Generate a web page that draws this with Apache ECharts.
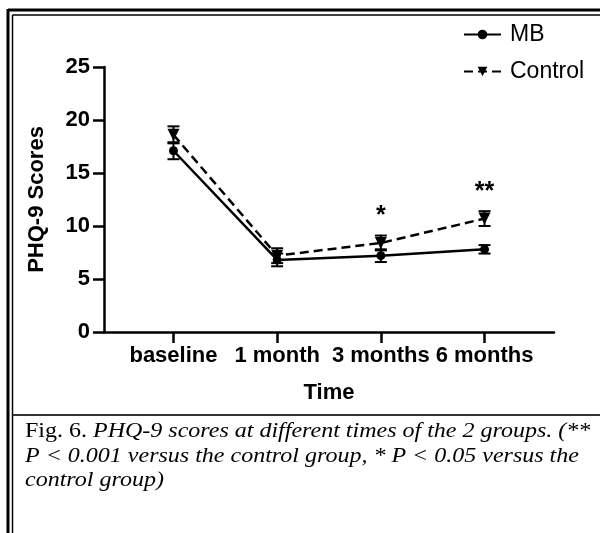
<!DOCTYPE html>
<html>
<head>
<meta charset="utf-8">
<script src="https://cdn.jsdelivr.net/npm/echarts@6/dist/echarts.min.js"></script>
<style>
  html, body { margin: 0; padding: 0; background: #fff; }
  #main { width: 600px; height: 533px; }
</style>
</head>
<body>
<div id="main"></div>
<script>
// values
const timeLabels = ['baseline', '1 month', '3 months', '6 months'];
const mbMean = [17.1, 6.8, 7.2, 7.8];
const mbErr = [0.8, 0.6, 0.6, 0.4];
const controlMean = [18.6, 7.2, 8.4, 10.7];
const controlErr = [0.8, 0.7, 0.7, 0.7];
const sigMarks = ['', '', '*', '**'];

const sans = 'Liberation Sans, Arial, sans-serif';
const serif = 'Liberation Serif, Times New Roman, serif';
const captionStretch = 1.2;

const chart = echarts.init(document.getElementById('main'));

function errorBars(mean, err) {
  return {
    type: 'custom',
    silent: true,
    z: 4,
    encode: { x: 0, y: [1, 2] },
    data: mean.map((m, i) => [i, m - err[i], m + err[i]]),
    renderItem: (params, api) => {
      const lo = api.coord([api.value(0), api.value(1)]);
      const hi = api.coord([api.value(0), api.value(2)]);
      const w = 6;
      const style = { stroke: '#000', lineWidth: 2 };
      return {
        type: 'group',
        children: [
          { type: 'line', shape: { x1: lo[0], y1: lo[1], x2: hi[0], y2: hi[1] }, style },
          { type: 'line', shape: { x1: lo[0] - w, y1: lo[1], x2: lo[0] + w, y2: lo[1] }, style },
          { type: 'line', shape: { x1: hi[0] - w, y1: hi[1], x2: hi[0] + w, y2: hi[1] }, style }
        ]
      };
    }
  };
}

function captionLine(y, text, rich) {
  return {
    type: 'text', x: 25, y: y, scaleX: captionStretch,
    style: Object.assign({
      text: text,
      verticalAlign: 'middle',
      fontSize: 20, fontFamily: serif, fontStyle: 'italic', fill: '#000'
    }, rich ? { rich: rich } : {})
  };
}

let option = {
  animation: false,
  grid: { left: 104, right: 46, top: 67, bottom: 201 },
  legend: {
    orient: 'vertical',
    left: 458,
    top: 18,
    itemWidth: 37,
    itemHeight: 12,
    itemGap: 14,
    textStyle: { fontSize: 23, fontFamily: sans, color: '#000', padding: [0, 0, 0, 4] },
    data: ['MB', 'Control']
  },
  xAxis: {
    type: 'value',
    min: -0.67,
    max: 3.67,
    name: 'Time',
    nameLocation: 'middle',
    nameGap: 50,
    nameTextStyle: { fontSize: 22, fontWeight: 'bold', fontFamily: sans, color: '#000' },
    splitLine: { show: false },
    axisLine: { lineStyle: { color: '#000', width: 2.5 } },
    axisTick: { customValues: [0, 1, 2, 3], length: 11, lineStyle: { color: '#000', width: 2.5 } },
    axisLabel: {
      customValues: [0, 1, 2, 3],
      formatter: v => timeLabels[Math.round(v)],
      fontSize: 22, fontWeight: 'bold', fontFamily: sans, color: '#000', margin: 13
    }
  },
  yAxis: {
    type: 'value',
    min: 0,
    max: 25,
    interval: 5,
    name: 'PHQ-9 Scores',
    nameLocation: 'middle',
    nameGap: 56,
    nameTextStyle: { fontSize: 22, fontWeight: 'bold', fontFamily: sans, color: '#000' },
    splitLine: { show: false },
    axisLine: { show: true, onZero: false, lineStyle: { color: '#000', width: 2.5 } },
    axisTick: { show: true, length: 11, lineStyle: { color: '#000', width: 2.5 } },
    axisLabel: { fontSize: 22, fontWeight: 'bold', fontFamily: sans, color: '#000', margin: 14 }
  },
  series: [
    {
      name: 'MB',
      type: 'line',
      z: 5,
      data: mbMean.map((v, i) => [i, v]),
      symbol: 'circle',
      symbolSize: 9,
      itemStyle: { color: '#000' },
      lineStyle: { color: '#000', width: 2.5 }
    },
    {
      name: 'Control',
      type: 'line',
      z: 5,
      data: controlMean.map((v, i) => [i, v]),
      symbol: 'triangle',
      symbolRotate: 180,
      symbolSize: 12,
      itemStyle: { color: '#000' },
      lineStyle: { color: '#000', width: 2.5, type: [9, 5] }
    },
    errorBars(mbMean, mbErr),
    errorBars(controlMean, controlErr),
    {
      type: 'custom',
      silent: true,
      encode: { x: 0, y: 1 },
      data: controlMean.map((m, i) => [i, m + controlErr[i]]),
      renderItem: (params, api) => {
        const p = api.coord([api.value(0), api.value(1)]);
        return {
          type: 'text',
          style: {
            text: sigMarks[params.dataIndex],
            x: p[0], y: p[1] - 7,
            align: 'center', verticalAlign: 'bottom',
            fontSize: 25, fontWeight: 'bold', fontFamily: sans, fill: '#000'
          }
        };
      }
    }
  ],
  graphic: [
    { type: 'line', shape: { x1: 8, y1: 10, x2: 600, y2: 10 }, style: { stroke: '#000', lineWidth: 3 } },
    { type: 'line', shape: { x1: 8, y1: 9, x2: 8, y2: 533 }, style: { stroke: '#000', lineWidth: 3 } },
    { type: 'line', shape: { x1: 12.5, y1: 15, x2: 600, y2: 15 }, style: { stroke: '#000', lineWidth: 1.5 } },
    { type: 'line', shape: { x1: 12.5, y1: 15, x2: 12.5, y2: 533 }, style: { stroke: '#000', lineWidth: 1.5 } },
    { type: 'line', shape: { x1: 12.5, y1: 415, x2: 600, y2: 415 }, style: { stroke: '#333', lineWidth: 2 } },
    captionLine(432, '{r|Fig. 6. }{i|PHQ-9 scores at different times of the 2 groups. (**}', {
      r: { fontSize: 20, fontFamily: serif, fill: '#000' },
      i: { fontSize: 20, fontFamily: serif, fontStyle: 'italic', fill: '#000' }
    }),
    captionLine(457, 'P < 0.001 versus the control group, * P < 0.05 versus the'),
    captionLine(481, 'control group)')
  ]
};

chart.setOption(option);
</script>
</body>
</html>
